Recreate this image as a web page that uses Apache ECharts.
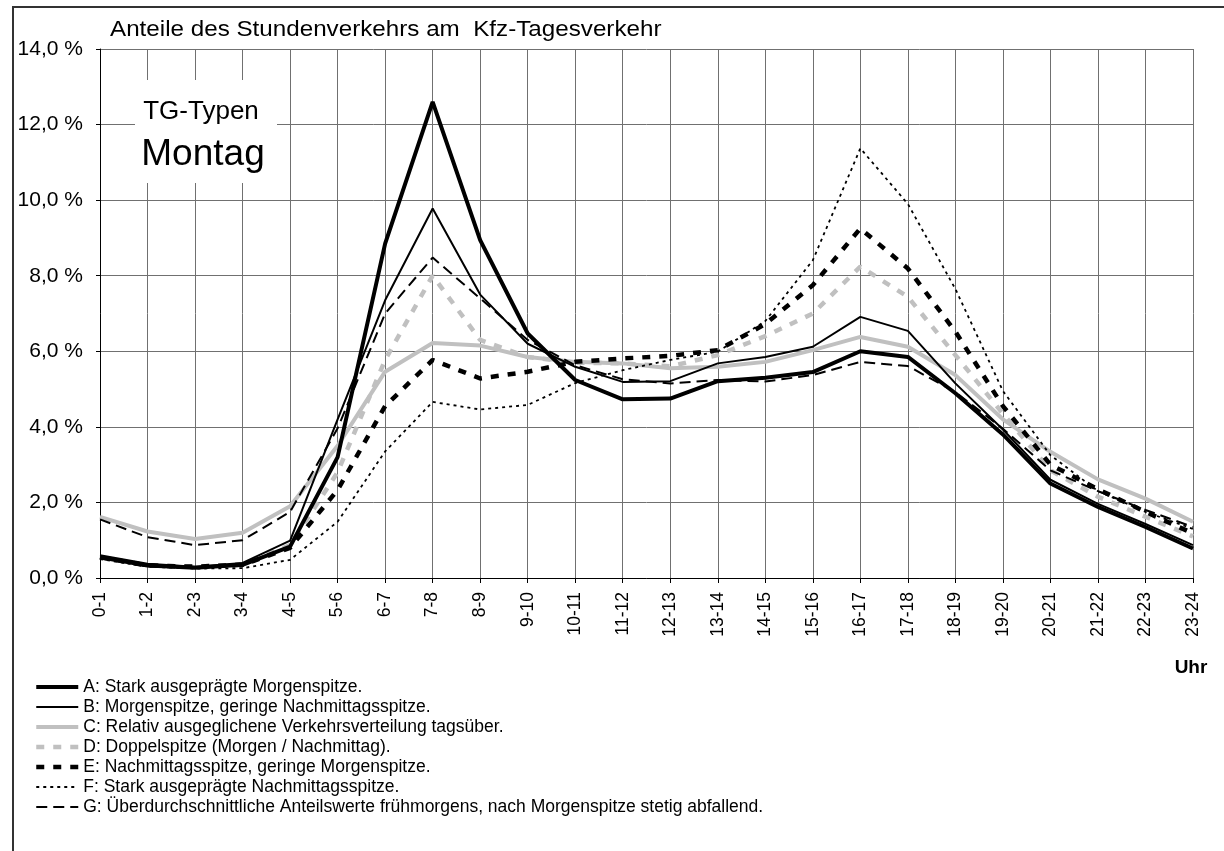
<!DOCTYPE html>
<html>
<head>
<meta charset="utf-8">
<script src="https://cdn.jsdelivr.net/npm/echarts@6/dist/echarts.min.js"></script>
<style>
  html, body { margin: 0; padding: 0; background: #fff; }
  #chart { width: 1224px; height: 851px; }
</style>
</head>
<body>
<div id="chart"></div>
<script>
// Stundengruppen
var hours = ["0-1", "1-2", "2-3", "3-4", "4-5", "5-6", "6-7", "7-8", "8-9", "9-10", "10-11", "11-12",
  "12-13", "13-14", "14-15", "15-16", "16-17", "17-18", "18-19", "19-20", "20-21", "21-22", "22-23", "23-24"];

// Anteile in % je TG-Typ
var typA = [0.55, 0.33, 0.27, 0.35, 0.83, 3.2, 8.85, 12.6, 8.94, 6.47, 5.24, 4.73, 4.75, 5.21, 5.3, 5.45, 6.0, 5.85, 4.89, 3.8, 2.5, 1.88, 1.35, 0.78];
var typB = [0.6, 0.38, 0.3, 0.4, 0.99, 4.2, 7.35, 9.78, 7.5, 6.2, 5.59, 5.19, 5.21, 5.68, 5.85, 6.12, 6.91, 6.54, 5.15, 3.93, 2.6, 1.96, 1.43, 0.87];
var typC = [1.62, 1.23, 1.03, 1.2, 1.9, 3.5, 5.46, 6.22, 6.15, 5.85, 5.72, 5.68, 5.55, 5.59, 5.72, 6.03, 6.38, 6.12, 5.37, 4.2, 3.34, 2.61, 2.1, 1.49];
var typD = [0.55, 0.33, 0.3, 0.35, 0.87, 2.8, 5.77, 8.0, 6.3, 5.85, 5.7, 5.68, 5.6, 5.9, 6.4, 7.0, 8.24, 7.44, 5.9, 4.35, 2.85, 2.15, 1.62, 1.1];
var typE = [0.55, 0.33, 0.3, 0.35, 0.8, 2.33, 4.55, 5.77, 5.28, 5.46, 5.72, 5.81, 5.88, 6.03, 6.72, 7.75, 9.25, 8.19, 6.52, 4.55, 3.0, 2.35, 1.75, 1.18];
var typF = [0.5, 0.3, 0.25, 0.26, 0.48, 1.49, 3.35, 4.66, 4.46, 4.58, 5.16, 5.5, 5.77, 5.99, 6.8, 8.41, 11.37, 9.9, 7.65, 4.95, 3.25, 2.3, 1.75, 1.3];
var typG = [1.55, 1.08, 0.87, 1.0, 1.75, 3.96, 7.0, 8.48, 7.4, 6.3, 5.63, 5.26, 5.15, 5.24, 5.2, 5.37, 5.72, 5.61, 4.92, 3.95, 2.85, 2.3, 1.8, 1.35];

var namen = [
  "A: Stark ausgeprägte Morgenspitze.",
  "B: Morgenspitze, geringe Nachmittagsspitze.",
  "C: Relativ ausgeglichene Verkehrsverteilung tagsüber.",
  "D: Doppelspitze (Morgen / Nachmittag).",
  "E: Nachmittagsspitze, geringe Morgenspitze.",
  "F: Stark ausgeprägte Nachmittagsspitze.",
  "G: Überdurchschnittliche Anteilswerte frühmorgens, nach Morgenspitze stetig abfallend."
];

var font = "Liberation Sans, Arial, sans-serif";
var chart = echarts.init(document.getElementById("chart"));

// Linienstile A..G
var stile = [
  { color: "#000", width: 4, type: "solid", z: 9 },
  { color: "#000", width: 2, type: "solid", z: 8 },
  { color: "#c0c0c0", width: 4, type: "solid", z: 3 },
  { color: "#c0c0c0", width: 4.5, type: [8, 9], z: 4 },
  { color: "#000", width: 4.5, type: [8, 9], z: 6 },
  { color: "#000", width: 1.8, type: [3, 4], z: 5 },
  { color: "#000", width: 2, type: [11, 6], z: 7 }
];
var werte = [typA, typB, typC, typD, typE, typF, typG];

var series = [];
var legendData = [];
namen.forEach(function (n, i) {
  var s = stile[i];
  series.push({
    name: n,
    type: "line",
    data: werte[i],
    symbol: "none",
    smooth: false,
    z: s.z,
    itemStyle: { color: s.color },
    lineStyle: { color: s.color, width: s.width, type: s.type, cap: "butt" },
    emphasis: { disabled: true }
  });
  legendData.push({
    name: n,
    itemStyle: { opacity: 0 },
    lineStyle: { color: s.color, width: s.width, type: s.type, cap: "butt" }
  });
});

chart.setOption({
  animation: false,
  backgroundColor: "#fff",
  grid: { left: 100, right: 31, top: 49, bottom: 273, containLabel: false },
  legend: {
    orient: "vertical",
    left: 29,
    top: 673,
    itemWidth: 42,
    itemHeight: 14,
    itemGap: 2,
    selectedMode: false,
    textStyle: { fontFamily: font, fontSize: 17.5, color: "#000", lineHeight: 17 },
    data: legendData
  },
  xAxis: {
    type: "category",
    data: hours,
    boundaryGap: false,
    axisLine: { lineStyle: { color: "#000", width: 1 } },
    axisTick: { show: true, length: 5, lineStyle: { color: "#000" } },
    axisLabel: { rotate: 90, fontFamily: font, fontSize: 17.5, color: "#000", margin: 14, interval: 0 },
    splitLine: { show: true, lineStyle: { color: "#707070", width: 1 } }
  },
  yAxis: {
    type: "value",
    min: 0,
    max: 14,
    interval: 2,
    axisLine: { show: true, lineStyle: { color: "#000", width: 1 } },
    axisTick: { show: true, length: 4, lineStyle: { color: "#000" } },
    axisLabel: {
      fontFamily: font, fontSize: 21, color: "#000", margin: 17,
      formatter: function (v) { return v.toFixed(1).replace(".", ",") + " %"; }
    },
    splitLine: { show: true, lineStyle: { color: "#707070", width: 1 } }
  },
  series: series,
  graphic: [
    { type: "rect", z: 1, silent: true, shape: { x: 13, y: 7, width: 1240, height: 870 },
      style: { fill: null, stroke: "#333", lineWidth: 2 } },
    { type: "text", z: 100, x: 110, y: 19, scaleX: 1.1,
      style: { text: "Anteile des Stundenverkehrs am  Kfz-Tagesverkehr", font: "22px " + font, fill: "#000" } },
    { type: "rect", z: 100, silent: true, shape: { x: 135, y: 80, width: 142, height: 103 },
      style: { fill: "#fff" } },
    { type: "text", z: 101, x: 201, y: 112,
      style: { text: "TG-Typen", font: "26px " + font, fill: "#000", align: "center", verticalAlign: "middle" } },
    { type: "text", z: 101, x: 203, y: 155,
      style: { text: "Montag", font: "37px " + font, fill: "#000", align: "center", verticalAlign: "middle" } },
    { type: "text", z: 100, x: 1191, y: 668,
      style: { text: "Uhr", font: "bold 19px " + font, fill: "#000", align: "center", verticalAlign: "middle" } }
  ]
});
</script>
</body>
</html>
